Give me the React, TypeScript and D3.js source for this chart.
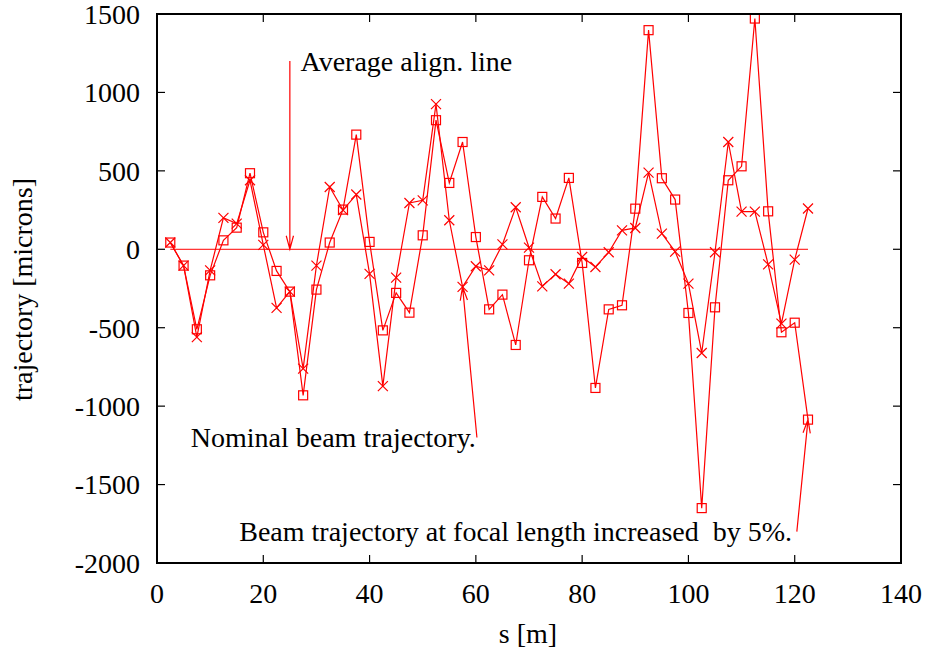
import React from 'react';
import * as d3 from 'd3';

// beam position along the line [m]
const sPositions = [
    2.5, 5, 7.5, 10, 12.5, 15, 17.5, 20, 22.5, 25,
    27.5, 30, 32.5, 35, 37.5, 40, 42.5, 45, 47.5, 50,
    52.5, 55, 57.5, 60, 62.5, 65, 67.5, 70, 72.5, 75,
    77.5, 80, 82.5, 85, 87.5, 90, 92.5, 95, 97.5, 100,
    102.5, 105, 107.5, 110, 112.5, 115, 117.5, 120, 122.5,
];

// nominal trajectory (crosses)
const nominal = [
    43, -104, -560, -134, 200, 164, 440, 28, -374, -270,
    -761, -104, 397, 250, 349, -157, -872, -181, 295, 312,
    925, 185, -240, -108, -134, 31, 268, 11, -236, -159,
    -219, -49, -113, -19, 121, 136, 489, 100, -15, -219,
    -661, -19, 684, 240, 240, -96, -474, -66, 260,
];

// focal length +5% (squares)
const focalPlus5 = [
    43, -104, -510, -166, 57, 138, 485, 108, -138, -270,
    -931, -257, 43, 253, 731, 47, -517, -278, -404, 89,
    823, 423, 684, 78, -383, -289, -610, -70, 334, 196,
    455, -87, -884, -383, -357, 259, 1397, 453, 317, -406,
    -1650, -370, 440, 529, 1471, 242, -529, -468, -1086,
];

const xTicks = [0, 20, 40, 60, 80, 100, 120, 140];
const yTicks = [-2000, -1500, -1000, -500, 0, 500, 1000, 1500];

// labels and arrows in data coords
const labelTexts = ['Average align. line', 'Nominal beam trajectory.', 'Beam trajectory at focal length increased  by 5%.'];
const labelPos: [number, number][] = [[27, 1200], [60, -1200], [119.5, -1800]];
const labelAnchor = ['start', 'end', 'end'];
const arrowFrom: [number, number][] = [[25, 1200], [60.2, -1200], [120.4, -1800]];
const arrowTo: [number, number][] = [[25, 0], [57.5, -240], [122.5, -1086]];

const width = 927;
const height = 655;
const left = 157, right = 901, top = 14, bottom = 563;
const red = '#ff0000';
const font = 'serif';
const fs = 28;

function App(): React.ReactElement {
    const x = d3.scaleLinear().domain([0, 140]).range([left, right]);
    const y = d3.scaleLinear().domain([-2000, 1500]).range([bottom, top]);

    const line = d3.line<number>()
        .x((_, i) => x(sPositions[i]))
        .y(d => y(d));

    const tickLen = 8;
    const cs = 5;
    const sq = 4.5;

    const arrowPaths = arrowFrom.map((from, i) => {
        const to = arrowTo[i];
        const x1 = x(from[0]), y1 = y(from[1]);
        const x2 = x(to[0]), y2 = y(to[1]);
        const ang = Math.atan2(y2 - y1, x2 - x1);
        const hl = 14, ha = Math.PI / 12;
        return `M${x1},${y1}L${x2},${y2}` +
            `M${x2 - hl * Math.cos(ang - ha)},${y2 - hl * Math.sin(ang - ha)}L${x2},${y2}L${x2 - hl * Math.cos(ang + ha)},${y2 - hl * Math.sin(ang + ha)}`;
    });

    return (
        <svg width={width} height={height} fontFamily={font}
            style={{ display: 'block', background: '#fff', position: 'absolute', left: 0, top: 0 }}>
            <g stroke="#000" strokeWidth={1.2}>
                {xTicks.map(t => (
                    <g key={'x' + t}>
                        <line x1={x(t)} x2={x(t)} y1={bottom} y2={bottom - tickLen} />
                        <line x1={x(t)} x2={x(t)} y1={top} y2={top + tickLen} />
                    </g>
                ))}
                {yTicks.map(t => (
                    <g key={'y' + t}>
                        <line x1={left} x2={left + tickLen} y1={y(t)} y2={y(t)} />
                        <line x1={right} x2={right - tickLen} y1={y(t)} y2={y(t)} />
                    </g>
                ))}
            </g>
            {xTicks.map(t => (
                <text key={'xl' + t} x={x(t)} y={bottom + 30} dy="0.35em" textAnchor="middle"
                    fontFamily={font} fontSize={fs}>{t}</text>
            ))}
            {yTicks.map(t => (
                <text key={'yl' + t} x={left - 17} y={y(t)} dy="0.35em" textAnchor="end"
                    fontFamily={font} fontSize={fs}>{t}</text>
            ))}
            <text x={(left + right) / 2 - 1} y={633} dy="0.35em" textAnchor="middle"
                fontFamily={font} fontSize={fs}>s [m]</text>
            <text transform={`translate(22,${(top + bottom) / 2 + 1}) rotate(-90)`} dy="0.35em" textAnchor="middle"
                fontFamily={font} fontSize={fs}>trajectory [microns]</text>

            {/* zero line */}
            <line x1={x(sPositions[0])} x2={x(sPositions[sPositions.length - 1])} y1={y(0)} y2={y(0)}
                stroke={red} strokeWidth={1} />

            {[nominal, focalPlus5].map((series, k) => (
                <path key={'s' + k} d={line(series) ?? ''} fill="none" stroke={red} strokeWidth={1.2} />
            ))}

            {nominal.map((d, i) => {
                const cx = x(sPositions[i]), cy = y(d);
                return <path key={'c' + i}
                    d={`M${cx - cs},${cy - cs}L${cx + cs},${cy + cs}M${cx - cs},${cy + cs}L${cx + cs},${cy - cs}`}
                    stroke={red} strokeWidth={1.2} fill="none" />;
            })}

            {focalPlus5.map((d, i) => (
                <rect key={'q' + i} x={x(sPositions[i]) - sq} y={y(d) - sq} width={sq * 2} height={sq * 2}
                    stroke={red} strokeWidth={1.2} fill="none" />
            ))}

            {arrowPaths.map((p, i) => (
                <path key={'a' + i} d={p} stroke={red} strokeWidth={1.2} fill="none" />
            ))}

            {labelTexts.map((t, i) => (
                <text key={'t' + i} x={x(labelPos[i][0])} y={y(labelPos[i][1])} dy="0.35em"
                    textAnchor={labelAnchor[i] as 'start' | 'end'} fontFamily={font} fontSize={fs}
                    xmlSpace="preserve">{t}</text>
            ))}

            <rect x={left} y={top} width={right - left} height={bottom - top} fill="none" stroke="#000" strokeWidth={2} />
        </svg>
    );
}

export default App;
